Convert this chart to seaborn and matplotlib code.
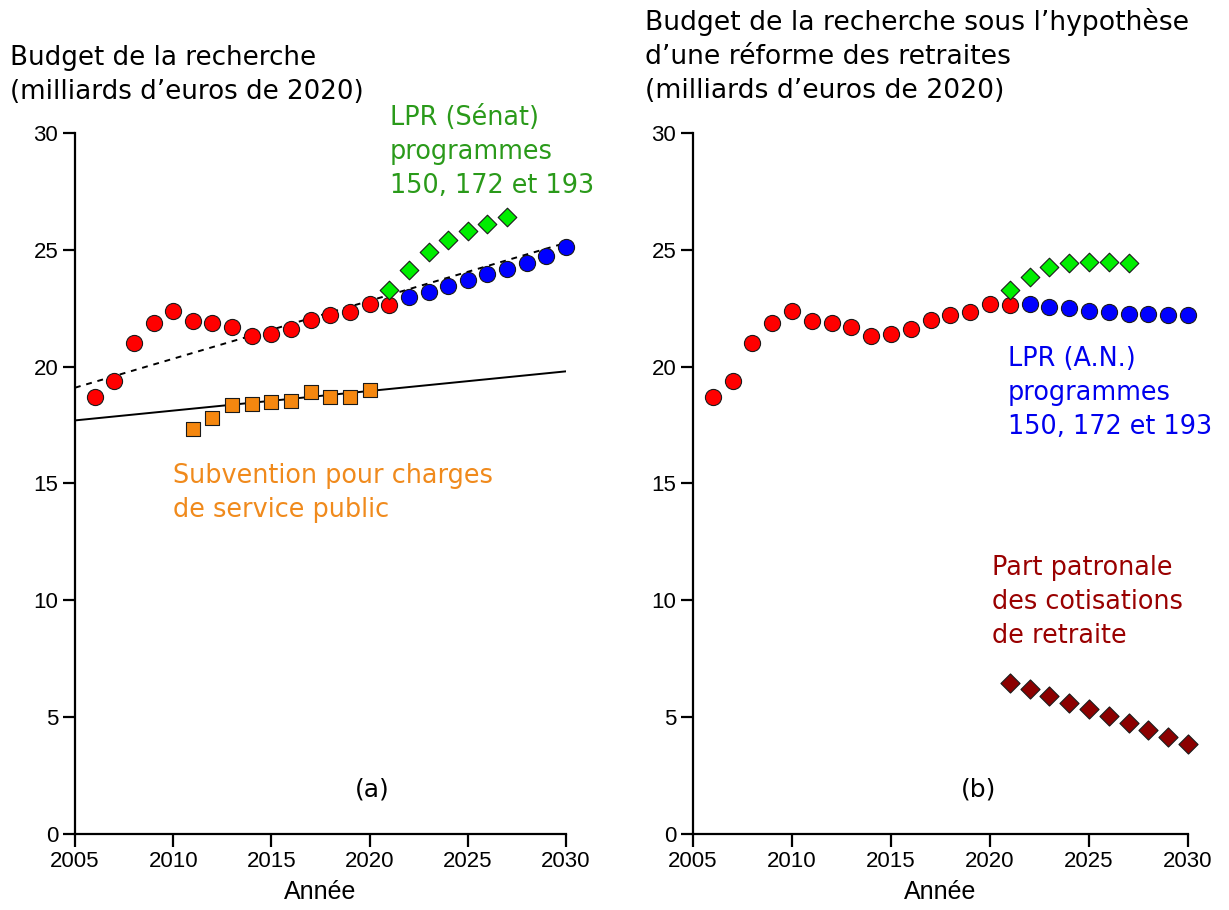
import pandas as pd
import matplotlib.pyplot as plt
import seaborn as sns

# --- données (milliards d'euros de 2020) ---
years_hist = list(range(2006, 2022))
budget_hist = [18.7, 19.4, 21.0, 21.85, 22.4, 21.95, 21.85, 21.7,
               21.3, 21.4, 21.6, 22.0, 22.2, 22.35, 22.7, 22.65]

years_an = list(range(2022, 2031))
lpr_an_a = [23.0, 23.2, 23.45, 23.7, 23.95, 24.2, 24.45, 24.75, 25.1]
lpr_an_b = [22.7, 22.55, 22.5, 22.4, 22.35, 22.25, 22.25, 22.2, 22.2]

years_senat = list(range(2021, 2028))
lpr_senat_a = [23.3, 24.15, 24.9, 25.4, 25.8, 26.1, 26.4]
lpr_senat_b = [23.3, 23.85, 24.25, 24.45, 24.5, 24.5, 24.45]

years_scsp = list(range(2011, 2021))
scsp = [17.35, 17.8, 18.35, 18.4, 18.5, 18.55, 18.9, 18.7, 18.7, 19.0]

years_patr = list(range(2021, 2031))
part_patronale = [6.45, 6.2, 5.9, 5.6, 5.35, 5.05, 4.75, 4.45, 4.15, 3.85]

trend_years = [2005, 2030]
trend_budget = [19.1, 25.3]
trend_scsp = [17.7, 19.8]

W, H = 1229, 910

RED = "#ff0000"
BLUE = "#0000ff"
GREEN = "#00ee00"
ORANGE = "#f5870f"
DARKRED = "#8b0000"

sns.set_theme(style="ticks")
plt.rcParams["font.family"] = ["DejaVu Sans"]

fig = plt.figure(figsize=(W / 100, H / 100), dpi=100)
ax_a = fig.add_axes([75 / W, 76 / H, 491 / W, 701 / H])
ax_b = fig.add_axes([693 / W, 76 / H, 495 / W, 701 / H])


def scatter(ax, x, y, color, marker, size):
    df = pd.DataFrame({"x": x, "y": y})
    sns.scatterplot(data=df, x="x", y="y", ax=ax, color=color, marker=marker,
                    s=size, edgecolor="#1a1a1a", linewidth=0.8, zorder=3,
                    legend=False)


# (a) lignes de tendance
df_t = pd.DataFrame({"x": trend_years, "budget": trend_budget, "scsp": trend_scsp})
sns.lineplot(data=df_t, x="x", y="budget", ax=ax_a, color="black",
             linestyle=(0, (3, 3)), linewidth=1.4, zorder=2)
sns.lineplot(data=df_t, x="x", y="scsp", ax=ax_a, color="black",
             linewidth=1.4, zorder=2)

scatter(ax_a, years_hist, budget_hist, RED, "o", 135)
scatter(ax_a, years_an, lpr_an_a, BLUE, "o", 135)
scatter(ax_a, years_senat, lpr_senat_a, GREEN, "D", 90)
scatter(ax_a, years_scsp, scsp, ORANGE, "s", 110)

# (b)
scatter(ax_b, years_hist, budget_hist, RED, "o", 135)
scatter(ax_b, years_an, lpr_an_b, BLUE, "o", 135)
scatter(ax_b, years_senat, lpr_senat_b, GREEN, "D", 90)
scatter(ax_b, years_patr, part_patronale, DARKRED, "D", 95)

for ax in (ax_a, ax_b):
    ax.set_xlim(2005, 2030)
    ax.set_ylim(0, 30)
    ax.set_xticks(range(2005, 2031, 5))
    ax.set_yticks(range(0, 31, 5))
    sns.despine(ax=ax)
    ax.spines["left"].set_linewidth(1.6)
    ax.spines["bottom"].set_linewidth(1.6)
    ax.spines["left"].set_color("black")
    ax.spines["bottom"].set_color("black")
    ax.tick_params(length=9, width=1.6, color="black", labelcolor="black",
                   labelsize=16, pad=3)
    for lab in ax.get_xticklabels() + ax.get_yticklabels():
        lab.set_family("Liberation Sans")
    ax.set_ylabel("")
    ax.set_xlabel("Année", fontsize=18, family="Liberation Sans", labelpad=6,
                  color="black")
    ax.set_facecolor("white")
    for coll in ax.collections:
        coll.set_clip_on(False)


def ftext(x, y, s, color="black", size=18.4):
    fig.text(x / W, 1 - y / H, s, color=color, fontsize=size,
             ha="left", va="top", linespacing=1.4)


ftext(10, 45, "Budget de la recherche\n(milliards d’euros de 2020)", size=18.8)
ftext(645, 8, "Budget de la recherche sous l’hypothèse\nd’une réforme des retraites\n(milliards d’euros de 2020)", size=19.2)
ftext(390, 105, "LPR (Sénat)\nprogrammes\n150, 172 et 193", color="#2a9a1a")
ftext(173, 463, "Subvention pour charges\nde service public", color="#f08a1c")
ftext(1008, 346, "LPR (A.N.)\nprogrammes\n150, 172 et 193", color="#0000ee")
ftext(992, 555, "Part patronale\ndes cotisations\nde retraite", color="#990000")
ax_a.text(0.605, 0.063, "(a)", transform=ax_a.transAxes, fontsize=18,
          ha="center", va="center", color="black")
ax_b.text(0.576, 0.063, "(b)", transform=ax_b.transAxes, fontsize=18,
          ha="center", va="center", color="black")

fig.savefig("out.png", dpi=100, facecolor="white")
